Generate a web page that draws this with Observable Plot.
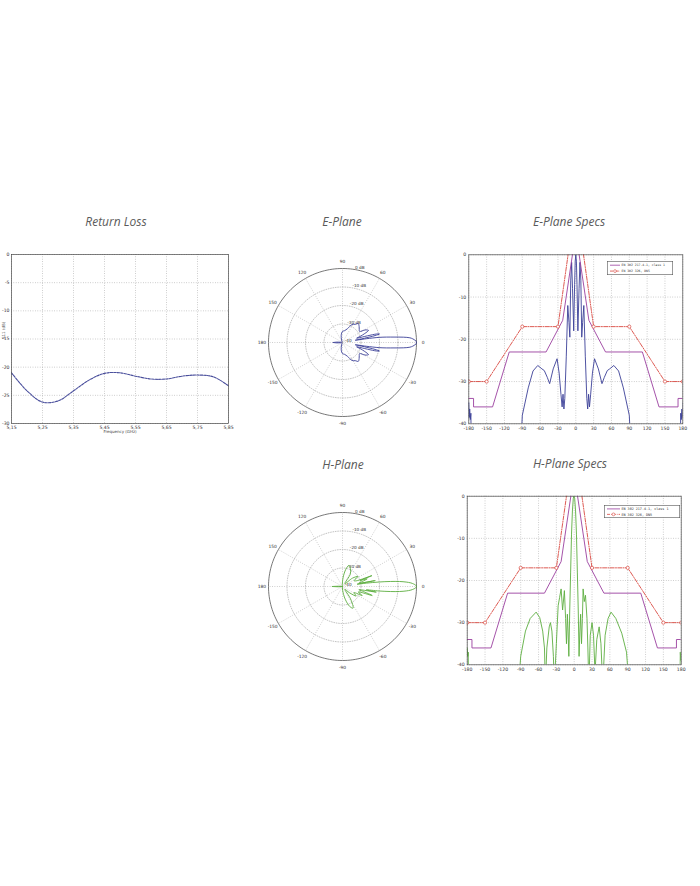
<!DOCTYPE html>
<html><head><meta charset="utf-8">
<script src="https://cdn.jsdelivr.net/npm/d3@7"></script>
<script src="https://cdn.jsdelivr.net/npm/@observablehq/plot@0.6"></script>
<style>
body{margin:0;background:#fff;}
#root{position:relative;width:700px;height:886px;overflow:hidden;background:#fff;}
.title{position:absolute;font-family:"Open Sans",sans-serif;font-style:italic;font-size:12px;line-height:12px;color:#5a5a5a;transform:translateX(-50%);white-space:nowrap;}
</style></head><body><div id="root"></div>
<script>
// ---------------- DATA ----------------
// Return loss
const rlFreq = [5.15,5.20,5.25,5.30,5.35,5.40,5.45,5.50,5.55,5.60,5.65,5.70,5.75,5.80,5.85];
const rlDb   = [-21.0,-24.2,-26.2,-26.0,-24.2,-22.3,-21.1,-21.0,-21.6,-22.1,-22.1,-21.6,-21.4,-21.7,-23.3];
const rlXTicks = [5.15,5.25,5.35,5.45,5.55,5.65,5.75,5.85];
const rlYTicks = [0,-5,-10,-15,-20,-25,-30];

// Polar grid
const polarRings = [-30,-20,-10];
const polarRingLabels = ["-40","-30 dB","-20 dB","-10 dB","0 dB"];
const polarRingLabelDb = [-40,-30,-20,-10,0];
const polarSpokes = [0,30,60,90,120,150,180,210,240,270,300,330];
const polarSpokeLabels = ["0","30","60","90","120","150","180","-150","-120","-90","-60","-30"];

// E-plane polar pattern (deg, dB)
const ePolarAngles = [-180,-176,-172,-160,-120,-110,-100,-90,-80,-70,-62,-55,-50,-44,-38,-33,-29,-25,-22,-19,-17,-15,-14,-13,-12,-11,-10,-9,-8,-7,-6,-5,-4,-3,-2,-1,0,1,2,3,4,5,6,7,8,9,10,11,12,13,14,15,17,19,22,25,29,33,38,44,50,55,62,70,80,90,100,110,120,160,172,176,180];
const ePolarDb = [-35,-37,-39,-39.5,-39.5,-38.5,-36,-34,-33.5,-32,-29,-28,-26.7,-27.5,-28.5,-29,-26,-24.5,-27,-30,-32,-26,-21,-19.5,-22,-28,-33,-27,-20,-16,-12,-7,-3.5,-2,-0.9,-0.25,0,-0.25,-0.9,-2,-3.5,-7,-12,-16,-20,-27,-33,-28,-22,-19.5,-21,-26,-32,-30,-27,-24.5,-26,-29,-28.5,-27.5,-26.7,-28,-29,-32,-33.5,-34,-36,-38.5,-39.5,-39.5,-39,-37,-35];

// H-plane polar pattern (deg, dB)
const hPolarAngles = [-180,-176,-170,-100,-88,-78,-70,-64,-57,-50,-42,-35,-28,-24.6,-19,-16.9,-13,-11,-9.5,-8,-7,-6,-5,-4,-3,-2,-1,0,1,2,3,4,5,6,7,8,9,10.3,11.5,14,17.3,18.5,20.3,22.5,27,33,40,50,58,66,73,79,86,95,110,170,176,180];
const hPolarDb = [-34.5,-38,-40.5,-40.5,-38,-33,-28.5,-27,-32,-38,-35,-31,-33,-28.3,-31,-23.2,-29,-31,-21.5,-27,-20,-14,-9,-5.5,-3,-1.5,-0.4,0,-0.4,-1.5,-3,-5.5,-9,-14,-20,-27,-32,-22,-31,-29,-26,-30,-23,-32,-33,-30,-33,-38,-32,-29.5,-28,-30.5,-35,-39,-40.5,-40.5,-38,-34.5];

// Specs (deg, dB)
const specXTicks = [-180,-150,-120,-90,-60,-30,0,30,60,90,120,150,180];
const specYTicks = [0,-10,-20,-30,-40];
const maskAngles = [-180,-172,-172,-140,-112,-50,-22,-3,3,22,50,112,140,172,172,180];
const maskDb     = [-34,-34,-36,-36,-23,-23,-15.5,2.5,2.5,-15.5,-23,-23,-36,-36,-34,-34];
const refAngles  = [-180,-150,-90,-30,-10,10,30,90,150,180];
const refDb      = [-30,-30,-17,-17,3,3,-17,-17,-30,-30];
const legendNames = ["EN 302 217-4-1, class 1","EN 302 326, DN5"];

const eSpecAngles = [-180,-179.2,-178.5,-177.5,-176.5,-175.5,-94,-90,-80,-72,-64,-57,-53,-48,-44,-38,-31.5,-28,-25,-23,-21.5,-20,-18.5,-16,-13.5,-11.5,-10,-8.5,-7,-5.5,-3.5,-2,-1,0,1,2,3.5,5.5,7,8.5,10,11.5,13.5,16,18.5,20,21.5,23,25,28,31.5,38,44,48,53,57,64,72,80,90,94,175.5,176.5,177.5,178.5,179.2,180];
const eSpecDb = [-35,-38.5,-36.5,-39,-37.5,-50,-50,-38,-31.5,-27.5,-26.2,-27,-27.4,-29,-30.5,-27,-24.6,-28,-33,-36,-33,-36.5,-34,-24,-12,-16,-19.5,-6,-1.8,-8,-18,-7,-1.5,0,-1.5,-7,-18,-8,-1.8,-6,-19.5,-16,-12,-24,-34,-36.5,-33,-36,-33,-28,-24.6,-27,-30.5,-29,-27.4,-27,-26.2,-27.5,-31.5,-38,-50,-50,-37.5,-39,-36.5,-38.5,-35];

const hSpecAngles = [-180,-179,-178.3,-177.5,-96,-90,-82,-74,-64,-58,-53,-50,-48.5,-46,-42,-40,-37.5,-35,-33.5,-30,-27,-24.5,-22,-19.5,-16.5,-14.5,-13,-11.5,-10.3,-9,-7.5,-6,-4.5,-3,-1.5,-0.5,0.8,2.3,3.8,5.3,6.8,8.2,9.5,10.8,12.3,13.8,15,17,19,21.5,23,24.7,27,30,32.5,35,38,42,45,48,52,57,62,70,80,88,95,177.5,178.5,179.3,180];
const hSpecDb = [-36,-38,-37,-50,-50,-38,-32,-29,-27.5,-28.8,-32,-36,-45,-36,-31,-30,-32,-38,-45,-35,-26,-24,-22,-27,-22.4,-29,-35,-28,-32,-38,-27,-18,-9,-3.5,-0.5,0,-0.5,-3.5,-9,-18,-27,-38,-32,-28,-35,-29,-22,-25,-23.5,-29,-36,-45,-33,-30,-33,-42,-34,-31,-35,-45,-33,-29,-27.5,-29,-32.5,-37,-50,-50,-37,-39,-37];

// ---------------- STYLE ----------------
const C = {blue:"#3b3f97", green:"#5cae3f", purple:"#9b3f9f", red:"#d9473f", frame:"#4a4a4a", grid:"#9a9a9a"};
const axisStyle = {fontSize:"4.6px", fontFamily:"DejaVu Sans, sans-serif", color:"#333", background:"transparent", overflow:"visible"};
const gridOpts = {stroke:C.grid, strokeOpacity:1, strokeWidth:0.6, strokeDasharray:"0.8,1.6"};
const fmt = d => String(d);

const root = document.getElementById("root");
function place(node, left, top){ node.style.position="absolute"; node.style.left=left+"px"; node.style.top=top+"px"; root.appendChild(node); }
function title(t, cx, top){ const d=document.createElement("div"); d.className="title"; d.textContent=t; d.style.left=cx+"px"; d.style.top=top+"px"; root.appendChild(d); }

// ---------------- RETURN LOSS ----------------
const rlData = rlFreq.map((f,i)=>({f, v: rlDb[i]}));
place(Plot.plot({
  width:236, height:196, marginLeft:11, marginRight:8, marginTop:10, marginBottom:17,
  style: axisStyle,
  x:{domain:[5.15,5.85]}, y:{domain:[-30,0]},
  marks:[
    Plot.gridX(rlXTicks, gridOpts),
    Plot.gridY(rlYTicks, gridOpts),
    Plot.line(rlData, {x:"f", y:"v", curve:"catmull-rom", stroke:"#4a4f9c", strokeWidth:1.1, strokeDasharray:"2.4,1.1"}),
    Plot.frame({stroke:C.frame, strokeWidth:0.7}),
    Plot.axisX(rlXTicks, {tickSize:0, tickPadding:2.5, label:null, tickFormat: d => d.toFixed(2).replace(".", ",")}),
    Plot.axisY(rlYTicks, {tickSize:0, tickPadding:2, label:null, tickFormat: fmt}),
    Plot.text(["Frequency (GHz)"], {frameAnchor:"bottom", dy:9.7, fontSize:4, fill:"#444"}),
    Plot.text(["S11 (dB)"], {frameAnchor:"left", dx:-8, rotate:-90, fontSize:4, fill:"#444"})
  ]
}), 0, 244);

// ---------------- POLAR ----------------
function polarPlot(angles, dbs, color){
  const R = 74, W = 176, H = 180, floor = -40;
  const rad = v => Math.max(0, (v - floor) / (0 - floor));
  const toXY = (a, v) => ({x: rad(v)*Math.cos(a*Math.PI/180), y: rad(v)*Math.sin(a*Math.PI/180)});
  const pattern = angles.map((a,i)=>toXY(a, dbs[i]));
  const ringPts = r => d3.range(0, 361, 2).map(t => ({...toXY(t, r), ring:r}));
  const rings = polarRings.flatMap(ringPts);
  const outer = ringPts(0);
  const labels = polarSpokes.map((a,i)=>({x:1.09*Math.cos(a*Math.PI/180), y:1.09*Math.sin(a*Math.PI/180), t:polarSpokeLabels[i]}));
  const c82 = Math.cos(82*Math.PI/180), s82 = Math.sin(82*Math.PI/180);
  const ringLabels = polarRingLabelDb.map((v,i)=>({x:rad(v)*c82 + 0.03, y:rad(v)*s82 + 0.005, t:polarRingLabels[i]}));
  return Plot.plot({
    width:W, height:H, margin:0,
    style: axisStyle,
    x:{domain:[-W/2/R, W/2/R], axis:null},
    y:{domain:[-H/2/R, H/2/R], axis:null},
    marks:[
      Plot.link(polarSpokes, {x1:()=>0, y1:()=>0, x2:a=>Math.cos(a*Math.PI/180), y2:a=>Math.sin(a*Math.PI/180), ...gridOpts}),
      Plot.line(rings, {x:"x", y:"y", z:"ring", ...gridOpts}),
      Plot.line(outer, {x:"x", y:"y", stroke:"#555", strokeWidth:0.8}),
      Plot.text(ringLabels, {x:"x", y:"y", text:"t", textAnchor:"start", lineAnchor:"bottom", fontSize:4.2, fill:"#333"}),
      Plot.text(labels, {x:"x", y:"y", text:"t", fontSize:4.4, fill:"#333"}),
      Plot.line(pattern, {x:"x", y:"y", curve:"catmull-rom", stroke:color, strokeWidth:0.9})
    ]
  });
}
place(polarPlot(ePolarAngles, ePolarDb, C.blue), 342-88, 342-90);
place(polarPlot(hPolarAngles, hPolarDb, C.green), 342-88, 586-90);

// ---------------- SPECS ----------------
function specPlot(patA, patD, color, mL, mR, mT, mB){
  const pattern = patA.map((a,i)=>({a, v:patD[i]}));
  const mask = maskAngles.map((a,i)=>({a, v:maskDb[i]}));
  const ref = refAngles.map((a,i)=>({a, v:refDb[i]}));
  return Plot.plot({
    width:240, height:190, marginLeft:mL, marginRight:mR, marginTop:mT, marginBottom:mB,
    style: axisStyle,
    x:{domain:[-180,180]}, y:{domain:[-40,0]},
    marks:[
      Plot.gridX(specXTicks, gridOpts),
      Plot.gridY(specYTicks, gridOpts),
      Plot.line(pattern, {x:"a", y:"v", stroke:color, strokeWidth:0.9, clip:true}),
      Plot.line(mask, {x:"a", y:"v", stroke:C.purple, strokeWidth:0.9, clip:true}),
      Plot.line(ref, {x:"a", y:"v", stroke:C.red, strokeWidth:0.9, strokeDasharray:"4,1.3,1,1.3", clip:true}),
      Plot.dot(ref, {x:"a", y:"v", r:1.6, stroke:C.red, strokeWidth:0.7, fill:"#fff", clip:true}),
      Plot.frame({stroke:C.frame, strokeWidth:0.7}),
      Plot.axisX(specXTicks, {tickSize:0, tickPadding:2.5, label:null, tickFormat:fmt}),
      Plot.axisY(specYTicks, {tickSize:0, tickPadding:2.5, label:null, tickFormat:fmt})
    ]
  });
}
place(specPlot(eSpecAngles, eSpecDb, C.blue, 16.3, 9.7, 6.3, 14.7), 452, 248);
place(specPlot(hSpecAngles, hSpecDb, C.green, 16.7, 9.3, 5.7, 15.7), 450, 490);

// ---------------- LEGENDS ----------------
function legend(left, top, w, h, sampleW, fs){
  const svg = d3.create("svg").attr("width", w).attr("height", h).attr("xmlns", "http://www.w3.org/2000/svg");
  svg.append("rect").attr("x",0.3).attr("y",0.3).attr("width",w-0.6).attr("height",h-0.6).attr("fill","#fff").attr("stroke","#555").attr("stroke-width",0.6);
  const rows = [h*0.3, h*0.72];
  svg.append("line").attr("x1",3).attr("x2",3+sampleW).attr("y1",rows[0]).attr("y2",rows[0]).attr("stroke",C.purple).attr("stroke-width",0.8);
  svg.append("line").attr("x1",3).attr("x2",3+sampleW).attr("y1",rows[1]).attr("y2",rows[1]).attr("stroke",C.red).attr("stroke-width",0.8).attr("stroke-dasharray","3,1,0.8,1");
  svg.append("circle").attr("cx",3+sampleW/2).attr("cy",rows[1]).attr("r",1.4).attr("stroke",C.red).attr("stroke-width",0.6).attr("fill","#fff");
  legendNames.forEach((t,i)=>{
    svg.append("text").attr("x",4.5+sampleW).attr("y",rows[i]).attr("dy","0.35em").attr("font-size",fs).attr("font-family","DejaVu Sans Mono, monospace").attr("fill","#333").text(t);
  });
  place(svg.node(), left, top);
}
legend(607, 261, 66, 14, 10, 3.15);
legend(604, 505, 76, 13, 13, 3.4);

// ---------------- TITLES ----------------
title("Return Loss", 116, 216);
title("E-Plane", 342, 216);
title("E-Plane Specs", 569, 216);
title("H-Plane", 343, 459);
title("H-Plane Specs", 570, 458);
</script></body></html>
